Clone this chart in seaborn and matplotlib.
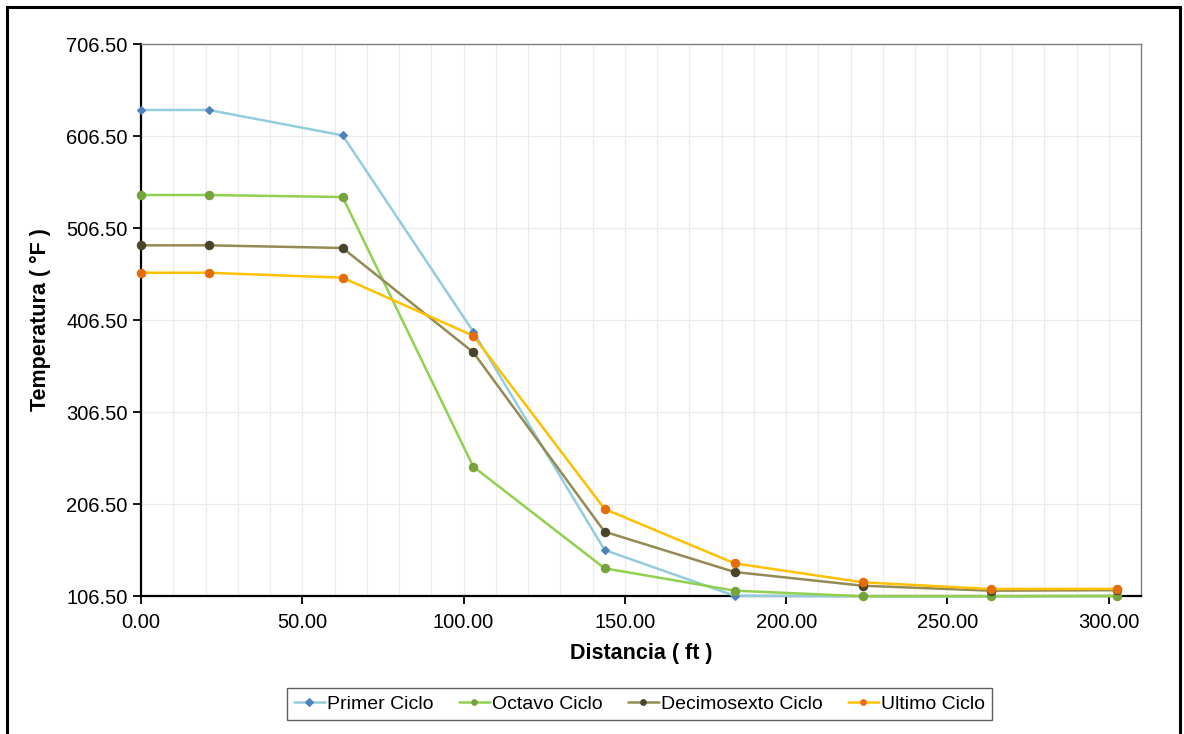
import numpy as np
import pandas as pd
import matplotlib
matplotlib.use("Agg")
import matplotlib.pyplot as plt
from matplotlib.patches import Rectangle
from matplotlib.ticker import MultipleLocator, FormatStrFormatter
import seaborn as sns

# data
distancia = [0.0, 21.0, 62.5, 103.0, 143.7, 184.0, 223.7, 263.4, 302.4]
primer = [634.8, 634.8, 607.2, 393.8, 156.5, 106.8, 106.2, 106.2, 106.5]
octavo = [542.4, 542.4, 540.2, 247.1, 136.6, 112.3, 106.2, 106.2, 106.5]
decimosexto = [487.7, 487.7, 484.8, 371.4, 176.4, 132.6, 117.7, 112.3, 112.8]
ultimo = [457.9, 457.9, 452.5, 389.4, 201.1, 142.0, 121.4, 114.1, 114.3]

series = ["Primer Ciclo", "Octavo Ciclo", "Decimosexto Ciclo", "Ultimo Ciclo"]
valores = [primer, octavo, decimosexto, ultimo]
line_colors = ["#93CDDD", "#92D050", "#948A54", "#FFC000"]
marker_colors = ["#4F81BD", "#77A33D", "#4A452A", "#E46C0A"]
markers = ["D", "o", "o", "o"]
msizes = [4.5, 6, 6, 6]

sns.set_style("white")
plt.rcParams['font.family'] = ['Liberation Sans', 'DejaVu Sans']
plt.rcParams['text.color'] = 'black'
plt.rcParams['axes.labelcolor'] = 'black'

fig = plt.figure(figsize=(11.84, 7.34), dpi=100)
ax = fig.add_axes([0.1191, 0.188, 0.8446, 0.752])

for name, vals, lc, mc, mk, ms in zip(series, valores, line_colors, marker_colors, markers, msizes):
    sns.lineplot(x=distancia, y=vals, ax=ax, color=lc, linewidth=1.8, label=name,
                 marker=mk, markersize=ms, markerfacecolor=mc, markeredgecolor=mc,
                 markeredgewidth=0.8, clip_on=False, zorder=3)

ax.set_xlim(0, 310)
ax.set_ylim(106.5, 706.5)
ax.xaxis.set_major_locator(MultipleLocator(50))
ax.xaxis.set_minor_locator(MultipleLocator(10))
ax.yaxis.set_major_formatter(FormatStrFormatter("%.2f"))
ax.xaxis.set_major_formatter(FormatStrFormatter("%.2f"))
ax.set_yticks(np.arange(106.5, 706.6, 100))

ax.grid(which="major", color="#EBEBEB", linewidth=0.9)
ax.grid(which="minor", axis="x", color="#EBEBEB", linewidth=0.9)
ax.set_axisbelow(True)

for s in ["left", "bottom"]:
    ax.spines[s].set_color("black")
    ax.spines[s].set_linewidth(1.6)
for s in ["top", "right"]:
    ax.spines[s].set_color("#808080")
    ax.spines[s].set_linewidth(1.0)

ax.tick_params(axis="both", which="major", direction="out", length=6, width=1.3,
               labelsize=14.5, colors="black", bottom=True, left=True)
ax.tick_params(axis="x", which="minor", length=0)
ax.tick_params(axis="x", pad=6)

ax.set_xlabel("Distancia ( ft )", fontsize=15.5, fontweight="bold", labelpad=8, color="black")
ax.set_ylabel("Temperatura ( °F )", fontsize=15.5, fontweight="bold", color="black")
ax.yaxis.set_label_coords(-0.09, 0.5)

leg = ax.legend(loc="center", bbox_to_anchor=(0.54, 0.041), bbox_transform=fig.transFigure,
                ncol=4, frameon=True, fancybox=False, fontsize=14, handlelength=1.6,
                handletextpad=0.1, columnspacing=1.3, borderpad=0.35)
leg.get_frame().set_edgecolor("#333333")
leg.get_frame().set_linewidth(1.0)
for t in leg.get_texts():
    t.set_color("black")
for h in leg.legend_handles:
    h.set_markersize(4)

# outer chart border
fig.patches.append(Rectangle((0.006, -0.05), 0.991, 1.041, transform=fig.transFigure,
                             fill=False, edgecolor="black", linewidth=2.2))

fig.savefig("out.png", dpi=100)
